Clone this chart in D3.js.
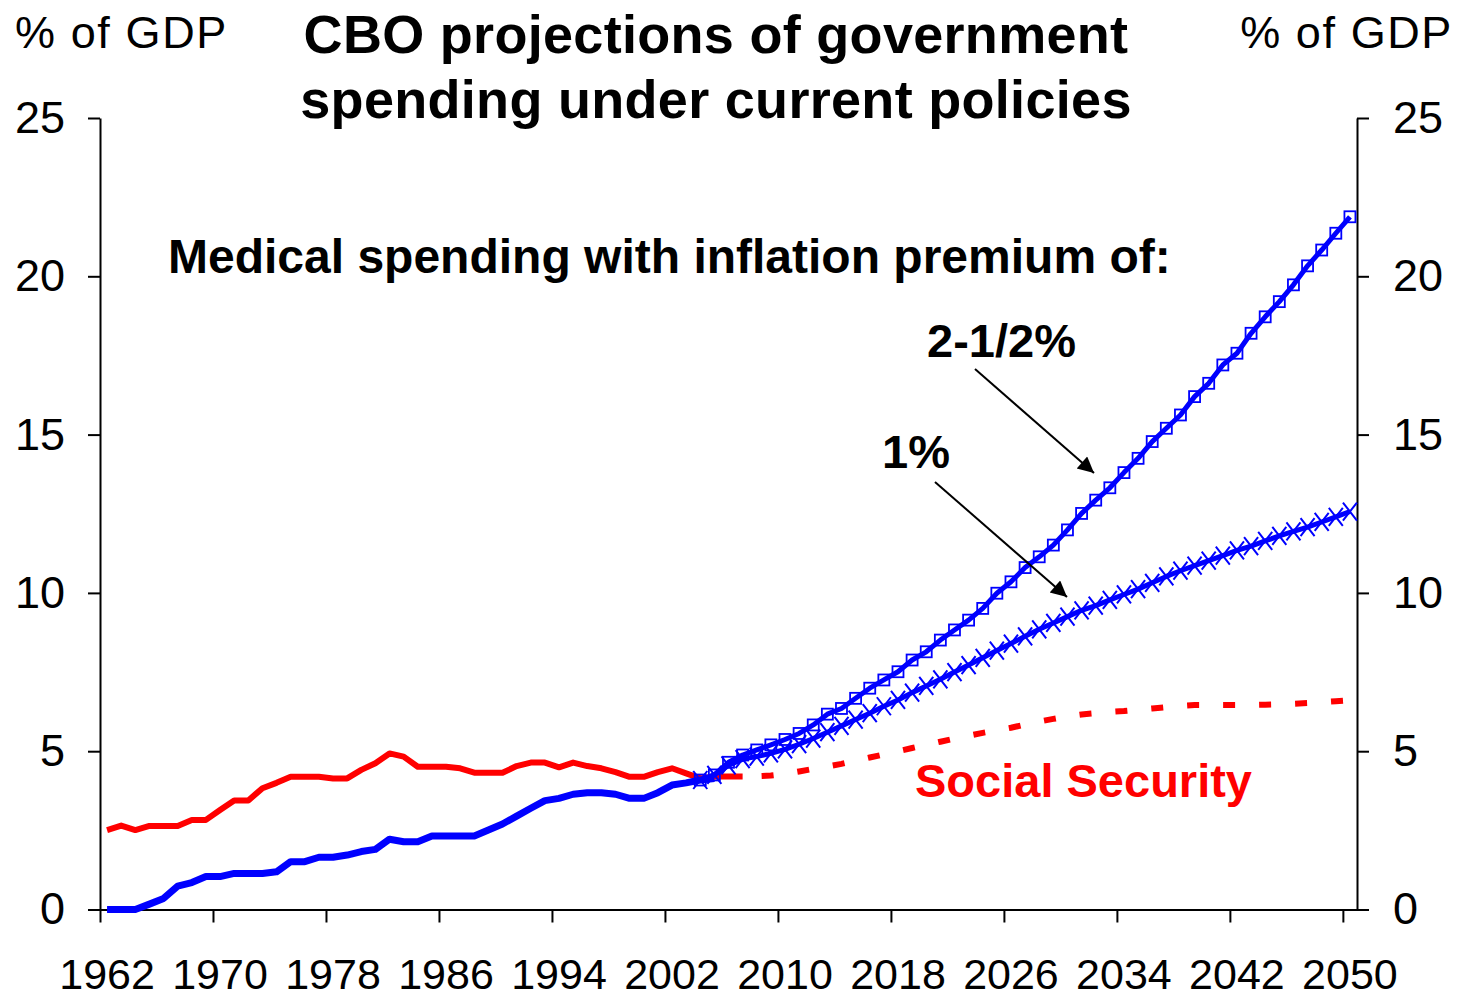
<!DOCTYPE html>
<html>
<head>
<meta charset="utf-8">
<script src="https://cdn.jsdelivr.net/npm/d3@7"></script>
<style>
  html, body { margin: 0; padding: 0; background: #fff; }
  svg { display: block; }
  text { font-family: "Liberation Sans", Arial, Helvetica, sans-serif; }
</style>
</head>
<body>
<svg id="chart" width="1461" height="999"></svg>
<script>
// ---------------- DATA ----------------
const histStartYear = 1962;
// Medical spending (historical), % of GDP, 1962-2005
const medicalHist = [0, 0, 0, 0.17, 0.35, 0.74, 0.85, 1.04, 1.04, 1.14,
  1.14, 1.14, 1.19, 1.51, 1.51, 1.65, 1.65, 1.72, 1.83, 1.90,
  2.22, 2.14, 2.14, 2.32, 2.32, 2.32, 2.32, 2.51, 2.70, 2.95,
  3.20, 3.44, 3.51, 3.64, 3.69, 3.69, 3.64, 3.51, 3.51, 3.69,
  3.93, 4.00, 4.09, 4.14];
// Social Security (historical), 1962-2007
const socSecHist = [2.51, 2.65, 2.51, 2.64, 2.64, 2.64, 2.83, 2.83, 3.14, 3.44,
  3.44, 3.83, 4.00, 4.19, 4.19, 4.19, 4.14, 4.14, 4.41, 4.62,
  4.93, 4.83, 4.51, 4.51, 4.51, 4.46, 4.32, 4.32, 4.32, 4.53,
  4.64, 4.64, 4.49, 4.64, 4.53, 4.46, 4.34, 4.19, 4.19, 4.34,
  4.46, 4.30, 4.14, 4.20, 4.20, 4.20];
const projStartYear = 2004;
// Medical spending with 2-1/2% inflation premium, 2004-2050
const medical25 = [4.09, 4.25, 4.65, 4.88, 5.04, 5.20, 5.37, 5.56, 5.83, 6.17,
  6.35, 6.67, 6.99, 7.25, 7.51, 7.88, 8.14, 8.51, 8.83, 9.14,
  9.51, 9.99, 10.35, 10.80, 11.14, 11.51, 11.99, 12.51, 12.93, 13.32,
  13.80, 14.25, 14.78, 15.20, 15.62, 16.20, 16.62, 17.20, 17.57, 18.20,
  18.72, 19.20, 19.73, 20.33, 20.83, 21.36, 21.88];
// Medical spending with 1% inflation premium, 2004-2050
const medical1 = [4.09, 4.25, 4.55, 4.75, 4.83, 4.93, 5.06, 5.22, 5.40, 5.60,
  5.80, 6.00, 6.20, 6.42, 6.62, 6.85, 7.06, 7.27, 7.50, 7.72,
  7.95, 8.18, 8.40, 8.63, 8.85, 9.05, 9.25, 9.45, 9.60, 9.78,
  9.95, 10.12, 10.32, 10.52, 10.70, 10.86, 11.02, 11.18, 11.34, 11.48,
  11.64, 11.80, 11.94, 12.08, 12.24, 12.40, 12.57];
const socSecProjStartYear = 2007;
// Social Security (projected), 2007-2050
const socSecProj = [4.20, 4.21, 4.23, 4.28, 4.36, 4.44, 4.52, 4.60, 4.70, 4.80,
  4.90, 5.00, 5.10, 5.20, 5.30, 5.40, 5.49, 5.58, 5.66, 5.74,
  5.84, 5.94, 6.02, 6.10, 6.16, 6.20, 6.24, 6.27, 6.31, 6.35,
  6.39, 6.43, 6.46, 6.46, 6.46, 6.46, 6.46, 6.47, 6.48, 6.50,
  6.52, 6.55, 6.58, 6.61];
const xTickYears = [1962, 1970, 1978, 1986, 1994, 2002, 2010, 2018, 2026, 2034, 2042, 2050];
const yTicks = [0, 5, 10, 15, 20, 25];
const titleLines = ["CBO projections of government", "spending under current policies"];
const unitLabel = "% of GDP";

// ---------------- CHART ----------------
const svg = d3.select("#chart");
const BLUE = "#0000FF", RED = "#FF0000";

const x = d3.scaleLinear().domain([1961.5, 2050.5]).range([100, 1357]);
const y = d3.scaleLinear().domain([0, 25]).range([909.5, 118]);

const toPts = (arr, start) => arr.map((v, i) => ({ year: start + i, v }));
const line = d3.line().x(d => x(d.year)).y(d => y(d.v));

// Axes
const axisFont = 45;
const gL = svg.append("g").attr("transform", `translate(${x.range()[0]},0)`)
  .call(d3.axisLeft(y).tickValues(yTicks).tickSize(12).tickSizeOuter(0).tickPadding(23));
const gR = svg.append("g").attr("transform", `translate(${x.range()[1]},0)`)
  .call(d3.axisRight(y).tickValues(yTicks).tickSize(12).tickSizeOuter(0).tickPadding(24));
const gB = svg.append("g").attr("transform", `translate(0,${y(0)})`)
  .call(d3.axisBottom(x).tickValues(xTickYears.map(v => v - 0.5)).tickSize(13).tickSizeOuter(0).tickFormat(""));
[gL, gR, gB].forEach(g => {
  g.selectAll("path.domain").attr("stroke", "#000").attr("stroke-width", 2);
  g.selectAll(".tick line").attr("stroke", "#000").attr("stroke-width", 2);
  g.selectAll(".tick text").attr("fill", "#000").style("font-size", axisFont + "px")
    .style("font-family", '"Liberation Sans", Arial, sans-serif');
});

// x labels centered on category centers
svg.append("g").selectAll("text").data(xTickYears).join("text")
  .attr("x", d => x(d)).attr("y", 989)
  .attr("text-anchor", "middle")
  .style("font-size", "43px")
  .text(d => d);

// Series
svg.append("path").datum(toPts(socSecHist, histStartYear))
  .attr("d", line).attr("fill", "none").attr("stroke", RED).attr("stroke-width", 6)
  .attr("stroke-linejoin", "round");
svg.append("path").datum(toPts(socSecProj, socSecProjStartYear))
  .attr("d", line).attr("fill", "none").attr("stroke", RED).attr("stroke-width", 6)
  .attr("stroke-dasharray", "12,24").attr("stroke-dashoffset", 17);
svg.append("path").datum(toPts(medicalHist, histStartYear))
  .attr("d", line).attr("fill", "none").attr("stroke", BLUE).attr("stroke-width", 7)
  .attr("stroke-linejoin", "round");

const p1 = toPts(medical1, projStartYear);
const p25 = toPts(medical25, projStartYear);

svg.append("path").datum(p1).attr("d", line).attr("fill", "none")
  .attr("stroke", BLUE).attr("stroke-width", 5).attr("stroke-linejoin", "round");
svg.append("g").selectAll("path").data(p1).join("path")
  .attr("d", d => {
    const cx = x(d.year), cy = y(d.v), w = 7, h = 9;
    return `M${cx - w},${cy - h}L${cx + w},${cy + h}M${cx - w},${cy + h}L${cx + w},${cy - h}`;
  })
  .attr("stroke", BLUE).attr("stroke-width", 2).attr("fill", "none");

svg.append("path").datum(p25).attr("d", line).attr("fill", "none")
  .attr("stroke", BLUE).attr("stroke-width", 5).attr("stroke-linejoin", "round");
svg.append("g").selectAll("rect").data(p25).join("rect")
  .attr("x", d => x(d.year) - 5.5).attr("y", d => y(d.v) - 5.5)
  .attr("width", 11).attr("height", 11)
  .attr("fill", "none").attr("stroke", BLUE).attr("stroke-width", 1.8);

// Titles
svg.append("text").attr("x", 716).attr("y", 53).attr("text-anchor", "middle")
  .style("font-size", "54px").style("font-weight", "bold").style("letter-spacing", "0.3px").text(titleLines[0]);
svg.append("text").attr("x", 716).attr("y", 118).attr("text-anchor", "middle")
  .style("font-size", "54px").style("font-weight", "bold").style("letter-spacing", "0.3px").text(titleLines[1]);
svg.append("text").attr("x", 15).attr("y", 48).style("font-size", "45px")
  .style("letter-spacing", "1.6px").text(unitLabel);
svg.append("text").attr("x", 1453).attr("y", 48).attr("text-anchor", "end")
  .style("font-size", "45px").style("letter-spacing", "1.6px").text(unitLabel);

// Annotations
svg.append("text").attr("x", 168).attr("y", 273).style("font-size", "48px")
  .style("font-weight", "bold").text("Medical spending with inflation premium of:");
svg.append("text").attr("x", 927).attr("y", 357).style("font-size", "47px")
  .style("font-weight", "bold").text("2-1/2%");
svg.append("text").attr("x", 882).attr("y", 468).style("font-size", "47px")
  .style("font-weight", "bold").text("1%");
svg.append("text").attr("x", 915).attr("y", 797).style("font-size", "47px")
  .style("font-weight", "bold").attr("fill", RED).text("Social Security");

// Arrows
svg.append("defs").append("marker").attr("id", "ah")
  .attr("viewBox", "0 0 10 10").attr("refX", 10).attr("refY", 5)
  .attr("markerWidth", 9).attr("markerHeight", 8).attr("markerUnits", "strokeWidth")
  .attr("orient", "auto")
  .append("path").attr("d", "M0,0L10,5L0,10Z").attr("fill", "#000");
[[975, 369, 1094, 473], [935, 482, 1067, 597]].forEach(a => {
  svg.append("line").attr("x1", a[0]).attr("y1", a[1]).attr("x2", a[2]).attr("y2", a[3])
    .attr("stroke", "#000").attr("stroke-width", 2).attr("marker-end", "url(#ah)");
});
</script>
</body>
</html>
